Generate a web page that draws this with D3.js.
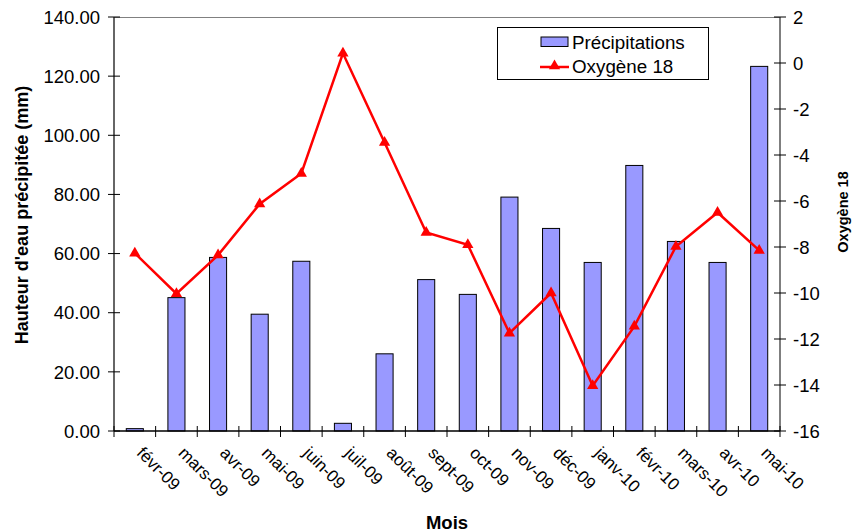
<!DOCTYPE html>
<html>
<head>
<meta charset="utf-8">
<script src="https://cdn.jsdelivr.net/npm/d3@7/dist/d3.min.js"></script>
<style>
  html, body { margin: 0; padding: 0; background: #fff; }
  svg { display: block; font-family: "Liberation Sans", Arial, sans-serif; }
</style>
</head>
<body>
<svg id="chart" width="854" height="531"></svg>
<script>
// Monthly precipitation (mm) and oxygen-18 values, Feb 2009 – May 2010
const months = ["févr-09", "mars-09", "avr-09", "mai-09", "juin-09", "juil-09", "août-09", "sept-09",
                "oct-09", "nov-09", "déc-09", "janv-10", "févr-10", "mars-10", "avr-10", "mai-10"];
const precipitations = [0.8, 45.1, 58.7, 39.5, 57.4, 2.6, 26.1, 51.2, 46.2, 79.1, 68.5, 57.0, 89.8, 64.1, 57.0, 123.3];
const oxygene18 = [-8.27, -10.03, -8.35, -6.13, -4.8, 0.42, -3.46, -7.37, -7.9, -11.75, -10.0, -14.03, -11.45, -7.98, -6.5, -8.15];
const leftTicks = [0, 20, 40, 60, 80, 100, 120, 140];
const rightTicks = [2, 0, -2, -4, -6, -8, -10, -12, -14, -16];

const svg = d3.select("#chart");
const pLeft = 114, pRight = 780, pTop = 17, pBottom = 431;

const x = d3.scaleBand().domain(months).range([pLeft, pRight]).paddingInner(0.59).paddingOuter(0.295);
const yL = d3.scaleLinear().domain([0, 140]).range([pBottom, pTop]);
const yR = d3.scaleLinear().domain([-16, 2]).range([pBottom, pTop]);
const step = x.step();
const cx = d => x(d) + x.bandwidth() / 2;

// plot area top border
svg.append("line").attr("x1", pLeft).attr("x2", pRight).attr("y1", pTop + 0.5).attr("y2", pTop + 0.5)
  .attr("stroke", "#808080").attr("stroke-width", 1);

// bars
svg.append("g").selectAll("rect").data(months).join("rect")
  .attr("x", d => x(d))
  .attr("y", (d, i) => yL(precipitations[i]))
  .attr("width", x.bandwidth())
  .attr("height", (d, i) => yL(0) - yL(precipitations[i]))
  .attr("fill", "#9999FF").attr("stroke", "#000").attr("stroke-width", 1);

// left axis
const gL = svg.append("g");
gL.append("line").attr("x1", pLeft).attr("x2", pLeft).attr("y1", pTop).attr("y2", pBottom)
  .attr("stroke", "#333").attr("stroke-width", 1.5);
gL.selectAll("line.t").data(leftTicks).join("line").attr("class", "t")
  .attr("x1", pLeft - 6).attr("x2", pLeft + 6).attr("y1", d => yL(d)).attr("y2", d => yL(d))
  .attr("stroke", "#000").attr("stroke-width", 1);
gL.selectAll("text").data(leftTicks).join("text")
  .attr("x", 100).attr("y", d => yL(d)).attr("dy", "0.36em")
  .attr("text-anchor", "end").attr("font-size", 18.5)
  .text(d3.format(".2f"));

// right axis
const gR = svg.append("g");
gR.append("line").attr("x1", pRight).attr("x2", pRight).attr("y1", pTop).attr("y2", pBottom)
  .attr("stroke", "#555").attr("stroke-width", 1.5);
gR.selectAll("line.t").data(rightTicks).join("line").attr("class", "t")
  .attr("x1", pRight - 6).attr("x2", pRight + 6).attr("y1", d => yR(d)).attr("y2", d => yR(d))
  .attr("stroke", "#000").attr("stroke-width", 1);
gR.selectAll("text").data(rightTicks).join("text")
  .attr("x", 793).attr("y", d => yR(d)).attr("dy", "0.36em")
  .attr("text-anchor", "start").attr("font-size", 18.5)
  .text(d => d);

// bottom axis with category boundary ticks
const gB = svg.append("g");
gB.append("line").attr("x1", pLeft).attr("x2", pRight).attr("y1", pBottom).attr("y2", pBottom)
  .attr("stroke", "#000").attr("stroke-width", 1.5);
const bounds = months.map(d => cx(d) - step / 2).concat([cx(months[months.length - 1]) + step / 2]);
gB.selectAll("line.t").data(bounds).join("line").attr("class", "t")
  .attr("x1", d => d).attr("x2", d => d).attr("y1", pBottom - 5).attr("y2", pBottom + 6)
  .attr("stroke", "#000").attr("stroke-width", 1);
gB.selectAll("text").data(months).join("text")
  .attr("transform", d => `translate(${cx(d) + 1},${pBottom + 23}) rotate(45)`)
  .attr("text-anchor", "start").attr("font-size", 17)
  .text(d => d);

// oxygen-18 line with triangle markers
const line = d3.line().x((d, i) => cx(months[i])).y(d => yR(d));
svg.append("path").datum(oxygene18).attr("d", line)
  .attr("fill", "none").attr("stroke", "#FF0000").attr("stroke-width", 2.5).attr("stroke-linejoin", "miter");
const tri = d3.symbol().type(d3.symbolTriangle).size(55);
svg.append("g").selectAll("path").data(oxygene18).join("path")
  .attr("transform", (d, i) => `translate(${cx(months[i])},${yR(d)})`)
  .attr("d", tri).attr("fill", "#FF0000");

// axis titles
svg.append("text").attr("transform", "translate(28,215) rotate(-90)")
  .attr("text-anchor", "middle").attr("font-size", 18).attr("font-weight", "bold")
  .text("Hauteur d'eau précipitée (mm)");
svg.append("text").attr("transform", "translate(847.5,212) rotate(-90)")
  .attr("text-anchor", "middle").attr("font-size", 14.5).attr("font-weight", "bold")
  .text("Oxygène 18");
svg.append("text").attr("x", (pLeft + pRight) / 2).attr("y", 528.5)
  .attr("text-anchor", "middle").attr("font-size", 18.5).attr("font-weight", "bold")
  .text("Mois");

// legend
const lg = svg.append("g");
lg.append("rect").attr("x", 497.5).attr("y", 27.5).attr("width", 211).attr("height", 52)
  .attr("fill", "#fff").attr("stroke", "#000").attr("stroke-width", 1);
lg.append("rect").attr("x", 541).attr("y", 37).attr("width", 27).attr("height", 9.5)
  .attr("fill", "#9999FF").attr("stroke", "#000").attr("stroke-width", 1);
lg.append("text").attr("x", 572).attr("y", 42).attr("dy", "0.36em").attr("font-size", 18.8)
  .text("Précipitations");
lg.append("line").attr("x1", 540).attr("x2", 569).attr("y1", 67).attr("y2", 67)
  .attr("stroke", "#FF0000").attr("stroke-width", 2.5);
lg.append("path").attr("transform", "translate(554.5,66)").attr("d", tri).attr("fill", "#FF0000");
lg.append("text").attr("x", 572).attr("y", 66.5).attr("dy", "0.36em").attr("font-size", 18.8)
  .text("Oxygène 18");
</script>
</body>
</html>
